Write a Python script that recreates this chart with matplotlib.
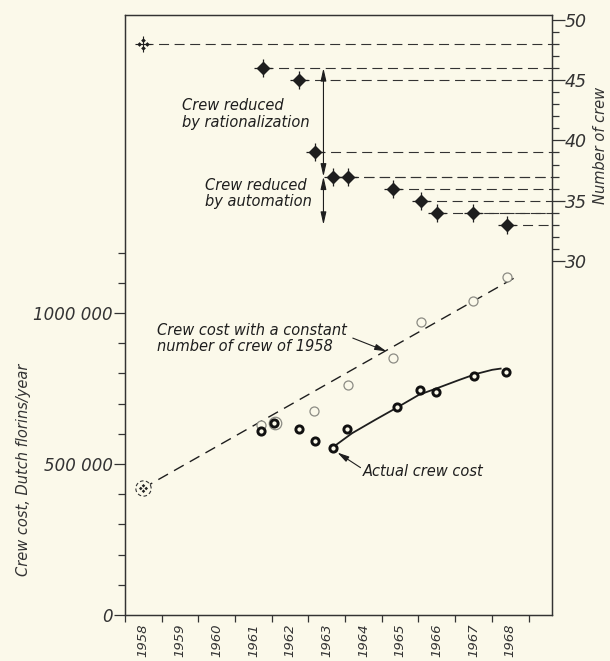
import numpy as np
import matplotlib
matplotlib.use('Agg')
import matplotlib.pyplot as plt
from matplotlib.path import Path

# --- data (decimal years) ---
crew_x = [1958.48, 1961.75, 1962.75, 1963.17, 1963.66, 1964.08, 1965.30, 1966.08, 1966.50, 1967.48, 1968.40]
crew_n = [48, 46, 45, 39, 37, 37, 36, 35, 34, 34, 33]

const_x = [1961.71, 1962.10, 1963.16, 1964.07, 1965.30, 1966.06, 1967.48, 1968.40]
const_cost = [630000, 636000, 674000, 761000, 851000, 971000, 1041000, 1120000]

actual_x = [1961.71, 1962.07, 1962.73, 1963.17, 1963.67, 1964.05, 1965.41, 1966.05, 1966.49, 1967.51, 1968.39]
actual_cost = [609000, 636000, 617000, 577000, 552000, 616000, 688000, 745000, 737000, 793000, 804000]

base_x = 1958.48          # 1958 reference point
base_cost = 419000

trend_x = [1958.48, 1968.61]          # dashed line, constant crew
trend_cost = [419000, 1116000]

curve_x = [1963.65, 1964.19, 1964.83, 1965.40, 1966.01, 1966.55, 1967.10, 1967.56, 1968.01, 1968.24]
curve_cost = [554000, 602000, 647000, 686000, 729000, 753000, 778000, 798000, 812000, 816000]

rational_span = (46, 37)
automation_span = (37, 33)
arrow_year = 1963.41

years = list(range(1958, 1969))
cost_ticks = [0, 500000, 1000000]
cost_ticklabels = ['0', '500 000', '1000 000']
crew_ticks = [30, 35, 40, 45, 50]

BG = '#fbf9ea'
INK = '#1e1e1e'
GREY = '#8c8c84'

plt.rcParams['font.family'] = ['DejaVu Sans']
plt.rcParams['font.style'] = 'oblique'


def four_diamonds(r=1.0, h=0.55):
    """four small diamonds in a cross pattern, used for the 1958 markers"""
    verts, codes = [], []
    for cx, cy in [(0, r), (r, 0), (0, -r), (-r, 0)]:
        verts += [(cx, cy + h), (cx + h, cy), (cx, cy - h), (cx - h, cy), (cx, cy + h)]
        codes += [Path.MOVETO, Path.LINETO, Path.LINETO, Path.LINETO, Path.CLOSEPOLY]
    return Path(verts, codes)


def dashed_ring(n=8, gap=0.4):
    step = 360 / n
    arcs = [Path.arc(i * step, i * step + step * (1 - gap)) for i in range(n)]
    return Path.make_compound_path(*arcs)


fig = plt.figure(figsize=(6.10, 6.61), dpi=100, facecolor=BG)
ax = fig.add_axes([125 / 610, 46 / 661, 427 / 610, 600 / 661])
ax.set_facecolor(BG)
ax2 = ax.twinx()

ax.set_xlim(1958, 1969.64)
ax.set_ylim(0, 1987000)
ax2.set_ylim(0.62, 50.41)

for a in (ax, ax2):
    for sp in a.spines.values():
        sp.set_color('#333333')
        sp.set_linewidth(0.9)

# --- crew numbers (right axis) ---
x_end = ax.get_xlim()[1]
for x, n in zip(crew_x, crew_n):
    ax2.plot([x, x_end], [n, n], color='#333333', lw=0.8, dashes=(9, 5), zorder=2)
ax2.plot(crew_x[1:], crew_n[1:], ls='none', marker='D', ms=6.3, color=INK, zorder=4)
ax2.plot(crew_x[1:], crew_n[1:], ls='none', marker='+', ms=12.5, mew=0.9, color=INK, zorder=4)
ax2.plot(crew_x[0], crew_n[0], ls='none', marker=four_diamonds(r=1.0, h=0.6), ms=9, color=INK, mew=0, zorder=4)
ax2.plot(crew_x[0], crew_n[0], ls='none', marker='+', ms=12, mew=0.8, color=INK, zorder=4)

arrow_style = dict(arrowstyle='<|-|>,head_length=0.75,head_width=0.17', lw=0.8, color=INK,
                   shrinkA=0, shrinkB=0)
ax2.annotate('', xy=(arrow_year, rational_span[0]), xytext=(arrow_year, rational_span[1]),
             arrowprops=arrow_style)
ax2.annotate('', xy=(arrow_year, automation_span[0]), xytext=(arrow_year, automation_span[1]),
             arrowprops=arrow_style)
ax2.text(1959.56, 42.2, 'Crew reduced\nby rationalization', fontsize=10.5, color=INK,
         ha='left', va='center', linespacing=1.15)
ax2.text(1960.19, 35.6, 'Crew reduced\nby automation', fontsize=10.5, color=INK,
         ha='left', va='center', linespacing=1.15)

# --- crew cost (left axis) ---
ax.plot(trend_x, trend_cost, color=INK, lw=1.0, dashes=(8, 5), zorder=2)
ax.plot(curve_x, curve_cost, color=INK, lw=1.3, zorder=2)
ax.plot(const_x, const_cost, ls='none', marker='o', ms=6.5, mfc=BG, mec=GREY, mew=0.9, zorder=3)
ax.plot(const_x[1], const_cost[1], ls='none', marker='o', ms=9, mfc=BG, mec=GREY, mew=0.9, zorder=3)
ax.plot(actual_x, actual_cost, ls='none', marker='o', ms=5.2, mfc=BG, mec='#111111', mew=2.1, zorder=4)
ax.plot(base_x, base_cost, ls='none', marker='o', ms=11, mfc=BG, mew=0, zorder=3)
ax.plot(base_x, base_cost, ls='none', marker=dashed_ring(), ms=11, mfc='none', mec='#333333', mew=0.8, zorder=4)
ax.plot(base_x, base_cost, ls='none', marker=four_diamonds(r=1.0, h=0.65), ms=6.5, color=INK, mew=0, zorder=4)

ax.text(1958.87, 917000, 'Crew cost with a constant\nnumber of crew of 1958', fontsize=10.5,
        color=INK, ha='left', va='center', linespacing=1.1)
ax.annotate('', xy=(1965.13, 873000), xytext=(1964.21, 917000),
            arrowprops=dict(arrowstyle='-|>,head_length=0.7,head_width=0.18', lw=0.8, color=INK,
                            shrinkA=0, shrinkB=0))
ax.text(1964.48, 476000, 'Actual crew cost', fontsize=10.5, color=INK, ha='left', va='center')
ax.annotate('', xy=(1963.79, 538000), xytext=(1964.42, 488000),
            arrowprops=dict(arrowstyle='-|>,head_length=0.7,head_width=0.18', lw=0.8, color=INK,
                            shrinkA=0, shrinkB=0))

# --- ticks ---
ax.set_xticks(range(1958, 1970))
ax.set_xticklabels([])
ax.set_xticks([y + 0.5 for y in years], minor=True)
ax.set_xticklabels([str(y) for y in years], minor=True, rotation=90, fontsize=9.5, color='#333333')
ax.tick_params(axis='x', which='major', direction='out', length=5, width=0.9, color='#333333')
ax.tick_params(axis='x', which='minor', length=0, pad=6)

ax.set_yticks(cost_ticks)
ax.set_yticklabels(cost_ticklabels, fontsize=12, color='#333333')
ax.set_yticks([v for v in range(100000, 1300000, 100000) if v not in cost_ticks], minor=True)
ax.tick_params(axis='y', which='major', direction='out', length=8, width=0.9, color='#333333', pad=1)
ax.tick_params(axis='y', which='minor', direction='out', length=5, width=0.9, color='#333333')

ax2.set_yticks(crew_ticks)
ax2.set_yticklabels([str(t) for t in crew_ticks], fontsize=12.5, color='#333333')
ax2.set_yticks(range(30, 51), minor=True)
ax2.tick_params(axis='y', which='major', direction='out', length=9, width=0.9, color='#333333', pad=0)
ax2.tick_params(axis='y', which='minor', direction='out', length=5, width=0.9, color='#333333')

ax.set_ylabel('Crew cost, Dutch florins/year', fontsize=10.5, color='#333333')
ax.yaxis.set_label_coords(-0.22, 0.242)
ax2.set_ylabel('Number of crew', fontsize=10.5, color='#333333')
ax2.yaxis.set_label_coords(1.096, 0.783)

fig.savefig('out.png', dpi=100, facecolor=BG)
